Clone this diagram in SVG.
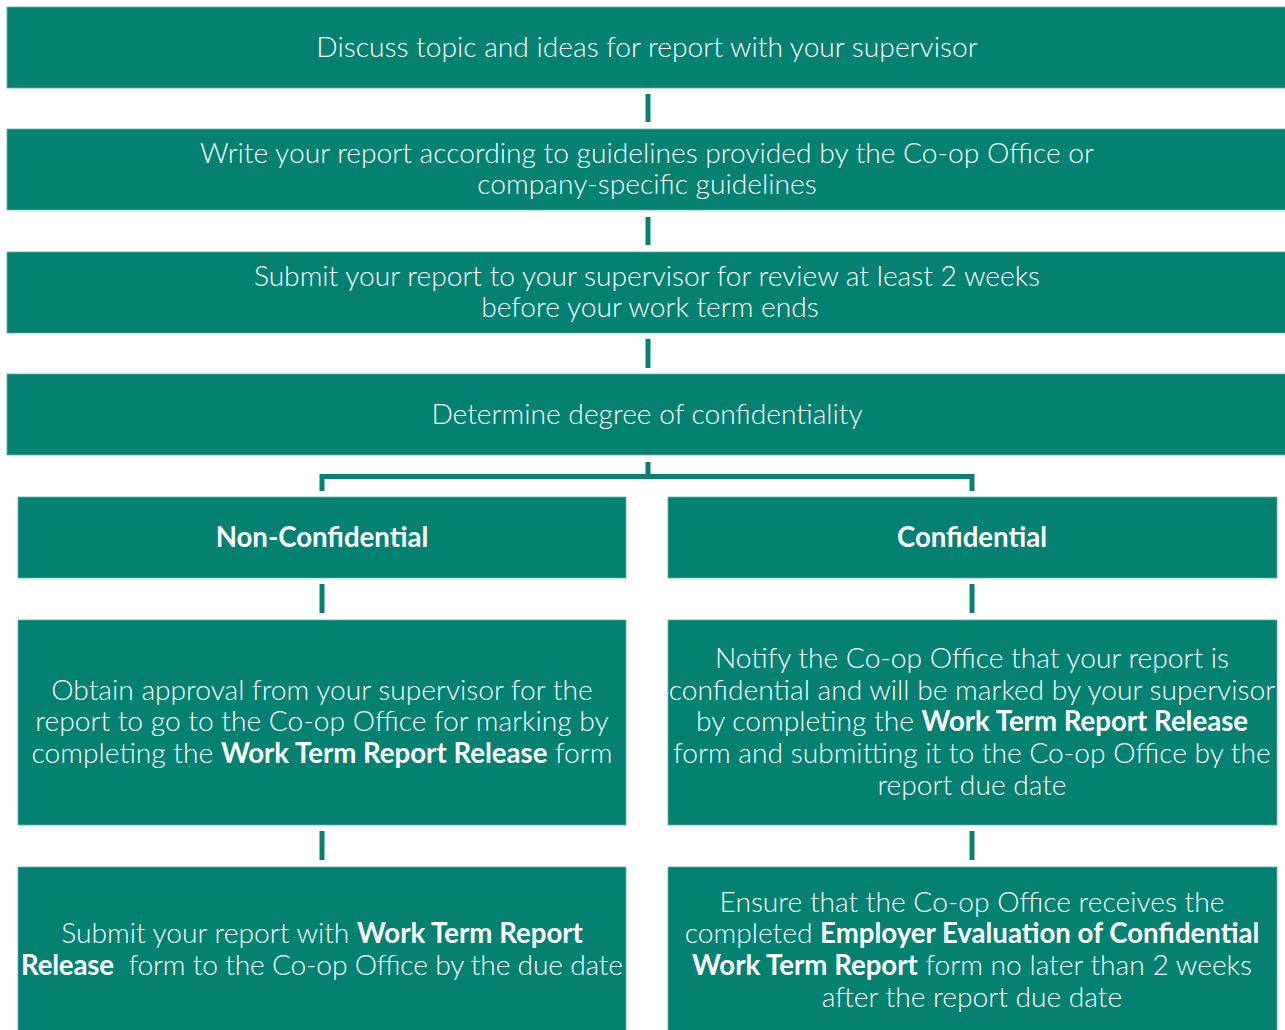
<svg xmlns="http://www.w3.org/2000/svg" width="1285" height="1030" viewBox="0 0 1285 1030">
<style>
.box{fill:#048171;stroke:#5fb0a4;stroke-width:0.8}
.t{font-family:Lato,"Open Sans","Liberation Sans",sans-serif;font-size:28.2px;font-weight:300;fill:#ffffff;text-anchor:middle}
.b{font-weight:bold;font-size:27.6px}
.c{stroke:#048171;stroke-width:5;fill:none}
</style>
<rect width="1285" height="1030" fill="#ffffff"/>
<g id="connectors">
<line class="c" x1="648" y1="94" x2="648" y2="122"/>
<line class="c" x1="648" y1="217" x2="648" y2="245"/>
<line class="c" x1="648" y1="339" x2="648" y2="368"/>
<line class="c" x1="648" y1="462" x2="648" y2="476"/>
<polyline class="c" points="322,491 322,476.5 972,476.5 972,491"/>
<line class="c" x1="322" y1="584" x2="322" y2="613"/>
<line class="c" x1="322" y1="831" x2="322" y2="860"/>
<line class="c" x1="972" y1="584" x2="972" y2="613"/>
<line class="c" x1="972" y1="831" x2="972" y2="860"/>
</g>
<g id="n1"><rect class="box" x="7" y="7" width="1280" height="81"/>
<text class="t" x="647" y="57">Discuss topic and ideas for report with your supervisor</text></g>
<g id="n2"><rect class="box" x="7" y="129" width="1280" height="81"/>
<text class="t" x="647" y="163">Write your report according to guidelines provided by the Co-op Office or</text>
<text class="t" x="647" y="194">company-specific guidelines</text></g>
<g id="n3"><rect class="box" x="7" y="252" width="1280" height="81"/>
<text class="t" x="647" y="286">Submit your report to your supervisor for review at least 2 weeks</text>
<text class="t" x="650" y="317">before your work term ends</text></g>
<g id="n4"><rect class="box" x="7" y="374" width="1280" height="81"/>
<text class="t" x="647" y="424">Determine degree of confidentiality</text></g>
<g id="n5"><rect class="box" x="18" y="497" width="608" height="81"/>
<text class="t b" x="322" y="547">Non-Confidential</text></g>
<g id="n6"><rect class="box" x="668" y="497" width="609" height="81"/>
<text class="t b" x="972" y="547">Confidential</text></g>
<g id="n7"><rect class="box" x="18" y="620" width="608" height="205"/>
<text class="t" x="322" y="700">Obtain approval from your supervisor for the</text>
<text class="t" x="322" y="731">report to go to the Co-op Office for marking by</text>
<text class="t" x="322" y="763">completing the <tspan class="b">Work Term Report Release</tspan> form</text></g>
<g id="n8"><rect class="box" x="668" y="620" width="609" height="205"/>
<text class="t" x="972" y="668">Notify the Co-op Office that your report is</text>
<text class="t" x="972" y="700">confidential and will be marked by your supervisor</text>
<text class="t" x="972" y="731">by completing the <tspan class="b">Work Term Report Release</tspan></text>
<text class="t" x="972" y="763">form and submitting it to the Co-op Office by the</text>
<text class="t" x="972" y="795">report due date</text></g>
<g id="n9"><rect class="box" x="18" y="867" width="608" height="170"/>
<text class="t" x="322" y="943">Submit your report with <tspan class="b">Work Term Report</tspan></text>
<text class="t" x="322" y="975" textLength="602" lengthAdjust="spacing"><tspan class="b">Release</tspan>&#160; form to the Co-op Office by the due date</text></g>
<g id="n10"><rect class="box" x="668" y="867" width="609" height="170"/>
<text class="t" x="972" y="912">Ensure that the Co-op Office receives the</text>
<text class="t" x="972" y="943">completed <tspan class="b">Employer Evaluation of Confidential</tspan></text>
<text class="t" x="972" y="975"><tspan class="b">Work Term Report</tspan> form no later than 2 weeks</text>
<text class="t" x="972" y="1007">after the report due date</text></g>
</svg>
